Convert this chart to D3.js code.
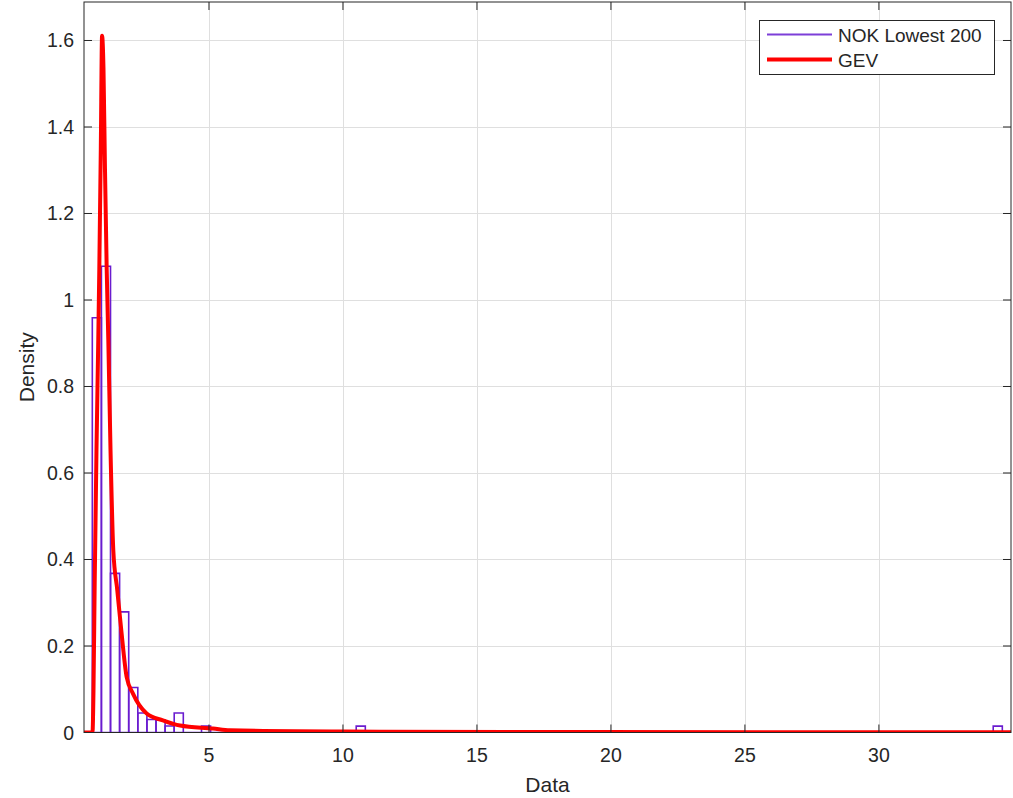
<!DOCTYPE html>
<html>
<head>
<meta charset="utf-8">
<script src="https://cdn.jsdelivr.net/npm/d3@7"></script>
<style>
  html, body { margin: 0; padding: 0; background: #ffffff; }
  svg { display: block; }
  text { font-family: "Liberation Sans", Arial, Helvetica, sans-serif; fill: #262626; }
</style>
</head>
<body>
<svg id="chart" width="1013" height="798"></svg>
<script>
// Histogram of NOK values (density-normalised), 100 equal bins
const binCount = 100;
const binStart = 0.646;
const binWidth = 0.3396;
const occupiedBins = [0, 1, 2, 3, 4, 5, 6, 7, 8, 9, 12, 29, 99];
const occupiedDensity = [0.959, 1.078, 0.368, 0.279, 0.104, 0.045, 0.030, 0.029, 0.015, 0.045, 0.0148, 0.0148, 0.0148];

// Fitted GEV density, sampled along x
const gevX = [0.336, 0.653, 0.690, 0.735, 0.802, 0.869, 0.907, 0.963, 1.010, 1.063, 1.119, 1.183, 1.243, 1.325, 1.429, 1.578, 1.728, 1.929, 2.164, 2.675, 3.28, 3.92, 5.15, 5.78, 10.07, 19.6, 34.93];
const gevY = [0, 0, 0.097, 0.345, 0.654, 0.909, 1.071, 1.349, 1.611, 1.535, 1.303, 1.071, 0.909, 0.654, 0.422, 0.329, 0.236, 0.128, 0.090, 0.044, 0.028, 0.016, 0.009, 0.005, 0.0023, 0.001, 0.0004];

const xTicks = [5, 10, 15, 20, 25, 30];
const yTicks = [0, 0.2, 0.4, 0.6, 0.8, 1, 1.2, 1.4, 1.6];
const xDomain = [0.336, 34.93];
const yDomain = [0, 1.689];

const seriesNames = ["NOK Lowest 200", "GEV"];
const axisLabels = { x: "Data", y: "Density" };

const histColor = "#6a1ccf";
const histLegendColor = "#7d3fd8";
const gevColor = "#ff0000";
const axisColor = "#262626";
const gridColor = "#dfdfdf";

const plot = { left: 84, right: 1011, top: 2, bottom: 732.5 };

const svg = d3.select("#chart");
const x = d3.scaleLinear().domain(xDomain).range([plot.left, plot.right]);
const y = d3.scaleLinear().domain(yDomain).range([plot.bottom, plot.top]);

// Grid
const grid = svg.append("g");
grid.selectAll("line.gx").data(xTicks).join("line")
  .attr("x1", d => Math.round(x(d)) + 0.5).attr("x2", d => Math.round(x(d)) + 0.5)
  .attr("y1", plot.top).attr("y2", plot.bottom)
  .attr("stroke", gridColor).attr("stroke-width", 1);
grid.selectAll("line.gy").data(yTicks.filter(d => d > 0)).join("line")
  .attr("x1", plot.left).attr("x2", plot.right)
  .attr("y1", d => Math.round(y(d)) + 0.5).attr("y2", d => Math.round(y(d)) + 0.5)
  .attr("stroke", gridColor).attr("stroke-width", 1);

// Clip to axes box
svg.append("clipPath").attr("id", "plotClip").append("rect")
  .attr("x", plot.left).attr("y", plot.top)
  .attr("width", plot.right - plot.left).attr("height", plot.bottom - plot.top);

// Histogram bins (empty bins still draw their outline along the baseline)
const bins = d3.range(binCount).map(i => {
  const k = occupiedBins.indexOf(i);
  return { x0: binStart + i * binWidth, x1: binStart + (i + 1) * binWidth, density: k >= 0 ? occupiedDensity[k] : 0 };
});
svg.append("g").attr("clip-path", "url(#plotClip)")
  .selectAll("path").data(bins).join("path")
  .attr("d", d => {
    const xa = x(d.x0), xb = x(d.x1), y0 = y(0), yt = y(d.density);
    return `M${xa},${y0}V${yt}H${xb}V${y0}Z`;
  })
  .attr("fill", "none")
  .attr("stroke", histColor)
  .attr("stroke-width", 1.6)
  .attr("stroke-linejoin", "miter");

// GEV curve
const gevPoints = gevX.map((v, i) => [v, gevY[i]]);
const line = d3.line().x(d => x(d[0])).y(d => y(d[1])).curve(d3.curveMonotoneX);
svg.append("path").attr("clip-path", "url(#plotClip)")
  .datum(gevPoints)
  .attr("d", line)
  .attr("fill", "none")
  .attr("stroke", gevColor)
  .attr("stroke-width", 4)
  .attr("stroke-linejoin", "round");

// Axes box with inward ticks
const axes = svg.append("g");
axes.append("rect")
  .attr("x", plot.left).attr("y", plot.top)
  .attr("width", plot.right - plot.left).attr("height", plot.bottom - plot.top)
  .attr("fill", "none").attr("stroke", axisColor).attr("stroke-width", 1);

const tickLen = 8;
axes.selectAll("line.xt").data(xTicks).join("line")
  .attr("x1", d => x(d)).attr("x2", d => x(d))
  .attr("y1", plot.bottom).attr("y2", plot.bottom - tickLen)
  .attr("stroke", axisColor);
axes.selectAll("line.xt2").data(xTicks).join("line")
  .attr("x1", d => x(d)).attr("x2", d => x(d))
  .attr("y1", plot.top).attr("y2", plot.top + tickLen)
  .attr("stroke", axisColor);
axes.selectAll("line.yt").data(yTicks).join("line")
  .attr("x1", plot.left).attr("x2", plot.left + tickLen)
  .attr("y1", d => y(d)).attr("y2", d => y(d))
  .attr("stroke", axisColor);
axes.selectAll("line.yt2").data(yTicks).join("line")
  .attr("x1", plot.right).attr("x2", plot.right - tickLen)
  .attr("y1", d => y(d)).attr("y2", d => y(d))
  .attr("stroke", axisColor);

const fmt = d3.format("~g");
axes.selectAll("text.xl").data(xTicks).join("text")
  .attr("x", d => x(d)).attr("y", plot.bottom + 29)
  .attr("text-anchor", "middle")
  .attr("font-size", 19.5)
  .text(d => fmt(d));
axes.selectAll("text.yl").data(yTicks).join("text")
  .attr("x", plot.left - 10).attr("y", d => y(d) + 7)
  .attr("text-anchor", "end")
  .attr("font-size", 19.5)
  .text(d => fmt(d));

svg.append("text")
  .attr("x", (plot.left + plot.right) / 2).attr("y", 792)
  .attr("text-anchor", "middle").attr("font-size", 21)
  .text(axisLabels.x);
svg.append("text")
  .attr("transform", `translate(34,${(plot.top + plot.bottom) / 2}) rotate(-90)`)
  .attr("text-anchor", "middle").attr("font-size", 21)
  .text(axisLabels.y);

// Legend
const legend = svg.append("g");
legend.append("rect")
  .attr("x", 759.5).attr("y", 20.5).attr("width", 235).attr("height", 54)
  .attr("fill", "#ffffff").attr("stroke", axisColor).attr("stroke-width", 1);
const legendColors = [histLegendColor, gevColor];
const legendWidths = [2, 4];
seriesNames.forEach((name, i) => {
  const ly = 34.5 + i * 25;
  legend.append("line")
    .attr("x1", 767).attr("x2", 832).attr("y1", ly).attr("y2", ly)
    .attr("stroke", legendColors[i]).attr("stroke-width", legendWidths[i]);
  legend.append("text")
    .attr("x", 838).attr("y", ly + 7)
    .attr("font-size", 19)
    .text(name);
});
</script>
</body>
</html>
